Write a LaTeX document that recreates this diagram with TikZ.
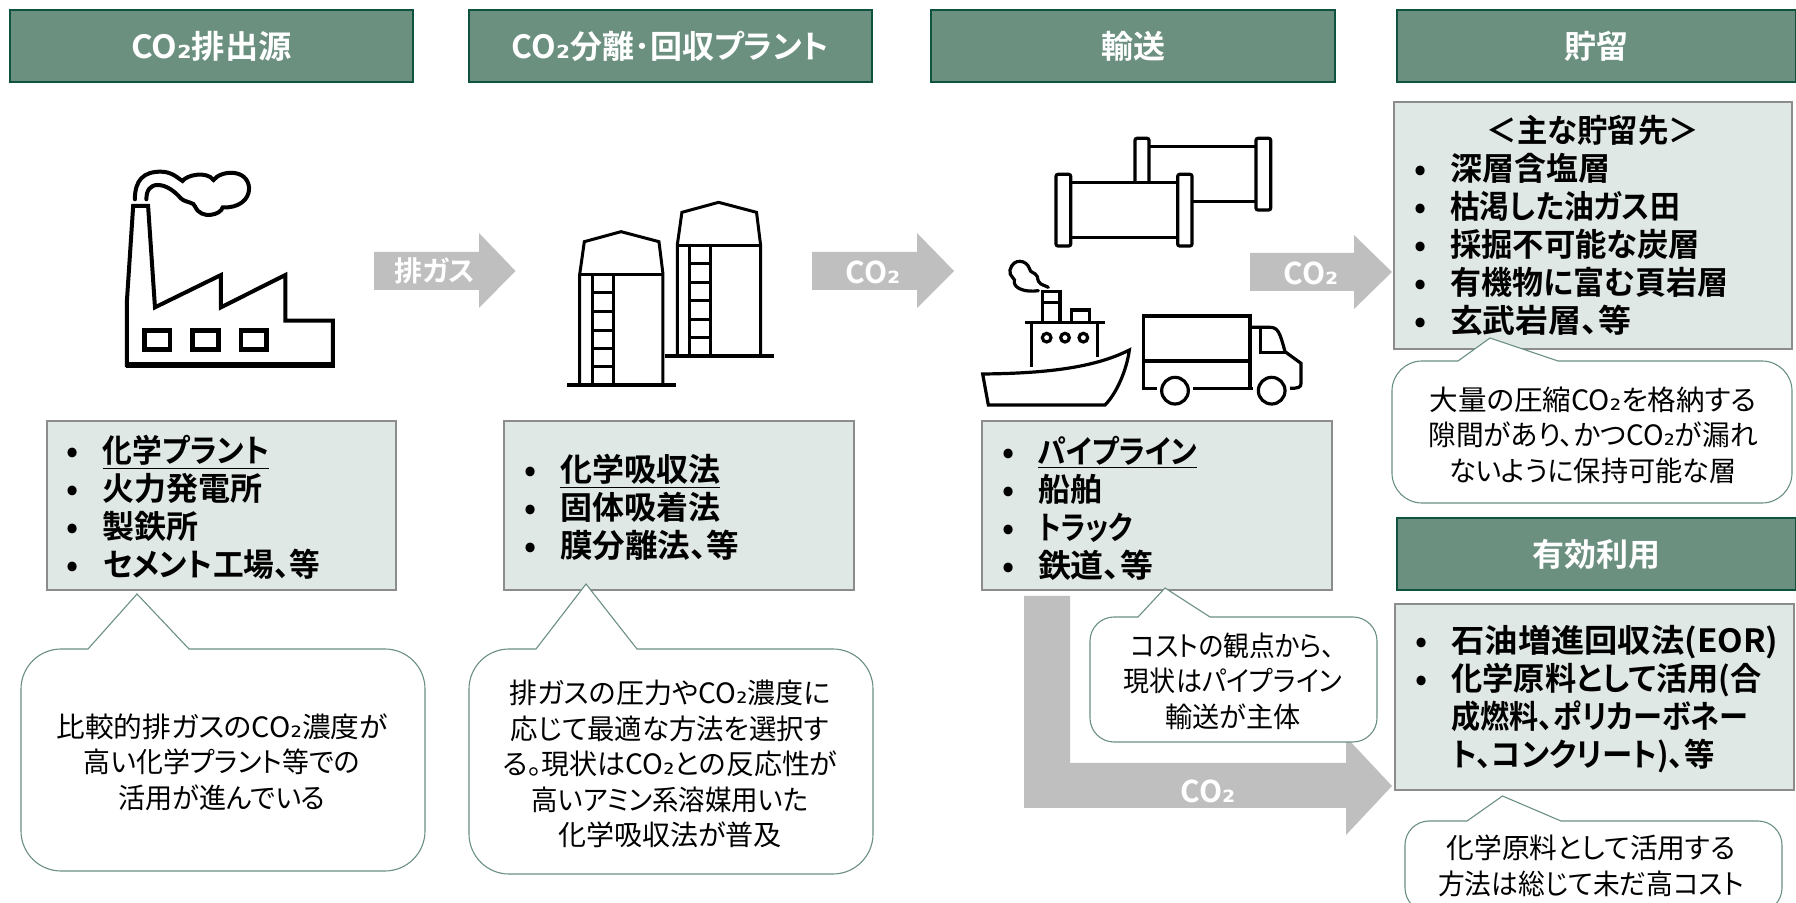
\documentclass[tikz,border=0pt]{standalone}
\usepackage{graphicx}
\usepackage{fontspec}
\setmainfont{Noto Sans CJK JP}[RawFeature=+palt,BoldFont={Noto Sans CJK JP Bold}]
\newfontfamily\subfont{DejaVu Sans}
\usetikzlibrary{calc}
\definecolor{hdfill}{HTML}{6B9080}
\definecolor{hdline}{HTML}{0F5240}
\definecolor{boxfill}{HTML}{E0E8E5}
\definecolor{boxline}{HTML}{8C8C8C}
\definecolor{arrowgray}{HTML}{BFBFBF}
\tikzset{
  header/.style={draw=hdline,fill=hdfill,line width=1.1pt,text=white,font=\fontsize{16}{18}\selectfont\bfseries,inner sep=0pt,anchor=center,text height=14pt,text depth=1pt},
  infobox/.style={draw=boxline,fill=boxfill,line width=0.9pt,inner sep=0pt,align=left,anchor=center,font=\fontsize{16}{19}\selectfont\bfseries},
  calloutline/.style={draw=hdfill,fill=white,line width=0.55pt},
  callouttext/.style={align=center,inner sep=0pt,font=\fontsize{14}{17.7}\selectfont},
  flowarrow/.style={fill=arrowgray,draw=none},
  arrowtext/.style={text=white,inner sep=0pt,font=\fontsize{15}{16}\selectfont\bfseries},
  icon/.style={draw=black,line join=miter,line cap=butt},
}
\newcommand{\two}{{\subfont ₂}}
\newcommand{\sx}[2]{\scalebox{#1}[1]{#2}}
\newcommand{\itm}[1]{\makebox[18pt][l]{•}#1}
\newcommand{\cnt}[1]{\hspace*{18pt}#1}
\newcommand{\fst}{\rule{0pt}{16pt}}
% l t r b R tipx tipy base1 base2
\newcommand{\calloutshape}[9]{%
  \pgfmathsetmacro{\cL}{#1+#5}\pgfmathsetmacro{\cR}{#3-#5}%
  \pgfmathsetmacro{\cT}{#2+#5}\pgfmathsetmacro{\cB}{#4-#5}%
  \pgfmathsetmacro{\kL}{#1+0.45*#5}\pgfmathsetmacro{\kR}{#3-0.45*#5}%
  \pgfmathsetmacro{\kT}{#2+0.45*#5}\pgfmathsetmacro{\kB}{#4-0.45*#5}%
  \path[calloutline] (\cL,#2) -- (#8,#2) -- (#6,#7) -- (#9,#2) -- (\cR,#2)
    .. controls (\kR,#2) and (#3,\kT) .. (#3,\cT) -- (#3,\cB)
    .. controls (#3,\kB) and (\kR,#4) .. (\cR,#4) -- (\cL,#4)
    .. controls (\kL,#4) and (#1,\kB) .. (#1,\cB) -- (#1,\cT)
    .. controls (#1,\kT) and (\kL,#2) .. (\cL,#2) -- cycle;}
\begin{document}
\begin{tikzpicture}[x=0.5pt,y=-0.5pt]
\useasboundingbox (0,0) rectangle (1796,903);
\clip (0,0) rectangle (1796,903);
\fill[white] (0,0) rectangle (1796,903);

% headers
\node[header,minimum width=201.5pt,minimum height=36pt] (h1) at (211.5,46) {\sx{1.04}{CO\two 排出源}};
\node[header,minimum width=201.5pt,minimum height=36pt] (h2) at (670.5,46) {CO\two 分離･回収プラント};
\node[header,minimum width=202pt,minimum height=36pt] (h3) at (1133,46) {輸送};
\node[header,minimum width=199.5pt,minimum height=36pt] (h4) at (1596.5,46) {貯留};
\node[header,minimum width=199.5pt,minimum height=36pt] (h5) at (1596.5,554) {有効利用};

% gray arrows
\path[flowarrow] (374,252) -- (479,252) -- (479,233) -- (515.5,271) -- (479,308) -- (479,290) -- (374,290) -- cycle;
\node[arrowtext,font=\fontsize{14}{16}\selectfont\bfseries] (a1) at (435,271) {排ガス};
\path[flowarrow] (812,252) -- (917,252) -- (917,233) -- (954,271) -- (917,308) -- (917,290) -- (812,290) -- cycle;
\node[arrowtext] (a2) at (873,272) {CO\two};
\path[flowarrow] (1250,253) -- (1354,253) -- (1354,235) -- (1392,272) -- (1354,309) -- (1354,291) -- (1250,291) -- cycle;
\node[arrowtext] (a3) at (1311,273) {CO\two};
\path[flowarrow] (1024,596) -- (1070,596) -- (1070,763) -- (1346,763) -- (1346,737) -- (1392,786) -- (1346,835) -- (1346,808) -- (1024,808) -- cycle;
\node[arrowtext] (a4) at (1208,791) {CO\two};

% info boxes
\node[infobox,minimum width=174.5pt,minimum height=84.5pt,text width=154.5pt] (b1) at (221.5,505.5) {%
\fst\itm{\sx{.93}{\underline{化学プラント}}}\\\itm{火力発電所}\\\itm{製鉄所}\\\itm{\sx{.96}{セメント工場、等}}};
\node[infobox,minimum width=175pt,minimum height=84.5pt,text width=155pt] (b2) at (679,505.5) {%
\fst\itm{\underline{化学吸収法}}\\\itm{固体吸着法}\\\itm{\sx{1.02}{膜分離法、等}}};
\node[infobox,minimum width=175pt,minimum height=84.5pt,text width=155pt] (b3) at (1157,505.5) {%
\fst\itm{\sx{.9}{\underline{パイプライン}}}\\\itm{船舶}\\\itm{\sx{.85}{トラック}}\\\itm{\sx{1.03}{鉄道、等}}};
\node[infobox,minimum width=199pt,minimum height=123.5pt,text width=179pt] (b4) at (1593,225.5) {%
\makebox[179pt][c]{\sx{.95}{＜主な貯留先＞}}\\\itm{深層含塩層}\\\itm{\sx{.93}{枯渇した油ガス田}}\\\itm{\sx{.98}{採掘不可能な炭層}}\\\itm{\sx{.97}{有機物に富む頁岩層}}\\\itm{\sx{1.03}{玄武岩層、等}}};
\node[infobox,minimum width=199.5pt,minimum height=93pt,text width=179pt] (b5) at (1594.5,697) {%
\fst\itm{\sx{1.04}{石油増進回収法(EOR)}}\\\itm{\sx{.975}{化学原料として活用(合}}\\\cnt{\sx{.91}{成燃料、ポリカーボネー}}\\\cnt{\sx{.95}{ト、コンクリート)、等}}};

% callouts
\calloutshape{21}{649}{425}{871}{40}{137}{594}{88}{189}
\node[callouttext] (c1) at (222,762) {\sx{1.025}{比較的排ガスのCO\two 濃度が}\\\sx{.96}{高い化学プラント等での}\\\sx{.97}{活用が進んでいる}};
\calloutshape{469}{649}{873}{874}{40}{586}{584}{536}{637}
\node[callouttext] (c2) at (670,764) {\sx{1.0}{排ガスの圧力やCO\two 濃度に}\\\sx{.98}{応じて最適な方法を選択す}\\\sx{1.0}{る。現状はCO\two との反応性が}\\\sx{.945}{高いアミン系溶媒用いた}\\化学吸収法が普及};
\calloutshape{1090}{617}{1377}{742}{24}{1165}{588}{1138}{1210}
\node[callouttext] (c3) at (1233,681) {\sx{.92}{コストの観点から、}\\\sx{.93}{現状はパイプライン}\\\sx{.97}{輸送が主体}};
\calloutshape{1392}{361}{1792}{503}{30}{1490}{338}{1458}{1558}
\node[callouttext] (c4) at (1593,435) {\sx{1.02}{大量の圧縮CO\two を格納する}\\\sx{.99}{隙間があり、かつCO\two が漏れ}\\\sx{.97}{ないように保持可能な層}};
\calloutshape{1405}{821}{1782}{912}{24}{1502.5}{796}{1467}{1561}
\node[callouttext] (c5) at (1591,866) {\sx{.99}{化学原料として活用する}\\\sx{.955}{方法は総じて未だ高コスト}};

% factory icon (coordinates read from an enlarged crop)
\begin{scope}[shift={(0,100)},x=0.287pt,y=-0.16667pt,line width=2pt]
  \draw[icon] (232,318) -- (258,318) -- (270,622) -- (385,525) -- (385,622) -- (497,525) -- (497,662) -- (580,662) -- (580,795) -- (221,795) -- (221,605) -- cycle;
  \draw[icon,line width=3pt] (219,795) -- (584,795);
  \draw[icon,line width=2.4pt] (252,692) rectangle (296,748) (336,692) rectangle (380,748) (420,692) rectangle (464,748);
  \draw[icon,line cap=round,line width=2pt] (235,298) .. controls (235,240) and (250,215) .. (280,215)
     .. controls (300,215) and (310,235) .. (318,243)
     .. controls (325,225) and (360,212) .. (372,240)
     .. controls (385,210) and (432,205) .. (434,265)
     .. controls (434,300) and (415,325) .. (388,322)
     .. controls (385,345) and (350,360) .. (340,320)
     .. controls (338,305) and (325,310) .. (315,295)
     .. controls (305,275) and (290,255) .. (275,255)
     .. controls (262,255) and (255,270) .. (255,298);
\end{scope}

% tanks
\begin{scope}[shift={(0,100)},x=0.287pt,y=-0.16667pt,line width=1.5pt]
  \foreach \dx/\dy in {170/-88,0/0}{
    \begin{scope}[shift={(\dx*0.287pt,-\dy*0.16667pt)}]
      \draw[icon,fill=white] (1010,855) -- (1010,522) -- (1018,425) -- (1082,395) -- (1148,425) -- (1155,522) -- (1155,855);
      \draw[icon] (1010,524) -- (1155,524);
      \draw[icon] (1032,524) -- (1032,855) (1068,524) -- (1068,855);
      \foreach \ry in {578,635,690,745,800}{\draw[icon] (1032,\ry) -- (1068,\ry);}
      \draw[icon,line width=2pt] (988,855) -- (1178,855);
    \end{scope}}
\end{scope}

% pipes, ship, truck
\begin{scope}[shift={(950,100)},x=0.16667pt,y=-0.16667pt,line width=1.6pt]
  \draw[icon] (597,140) -- (918,140) (725,305) -- (918,305);
  \draw[icon,rounded corners=1pt] (555,245) -- (555,115) -- (597,115) -- (597,245);
  \draw[icon,rounded corners=1pt,fill=white] (918,115) rectangle (962,330);
  \draw[icon,fill=white] (362,248) rectangle (683,412);
  \draw[icon,rounded corners=1pt,fill=white] (318,223) rectangle (362,438);
  \draw[icon,rounded corners=1pt,fill=white] (683,223) rectangle (726,438);
  % ship
  \draw[icon] (98,822) .. controls (280,820) and (430,805) .. (538,750) .. controls (530,810) and (500,880) .. (465,915) -- (115,915) -- cycle;
  \draw[icon] (245,668) -- (245,800) (443,668) -- (443,770) (225,668) -- (465,668);
  \draw[icon] (278,668) -- (278,575) -- (330,575) -- (330,668) (278,607) -- (330,607);
  \draw[icon] (365,668) -- (365,630) -- (418,630) -- (418,668);
  \draw[icon] (290,713) circle[radius=13] (345,713) circle[radius=13] (400,713) circle[radius=13];
  \draw[icon,line cap=round] (295,562) .. controls (275,552) and (265,555) .. (262,530) .. controls (255,515) and (240,520) .. (238,505)
     .. controls (230,480) and (190,472) .. (180,510) .. controls (175,530) and (200,535) .. (193,548) .. controls (195,565) and (225,578) .. (265,572);
  % truck
  \draw[icon] (620,865) -- (580,865) -- (580,648) -- (900,648) -- (900,865) (580,783) -- (900,783) (730,865) -- (908,865);
  \draw[icon] (900,682) -- (960,682) .. controls (985,682) and (990,700) .. (1005,755) -- (1053,790) -- (1053,850) .. controls (1053,862) and (1045,865) .. (1020,865);
  \draw[icon] (932,682) -- (932,757) -- (1005,757);
  \draw[icon] (675,872) circle[radius=40] (965,872) circle[radius=40];
\end{scope}
\end{tikzpicture}
\end{document}
